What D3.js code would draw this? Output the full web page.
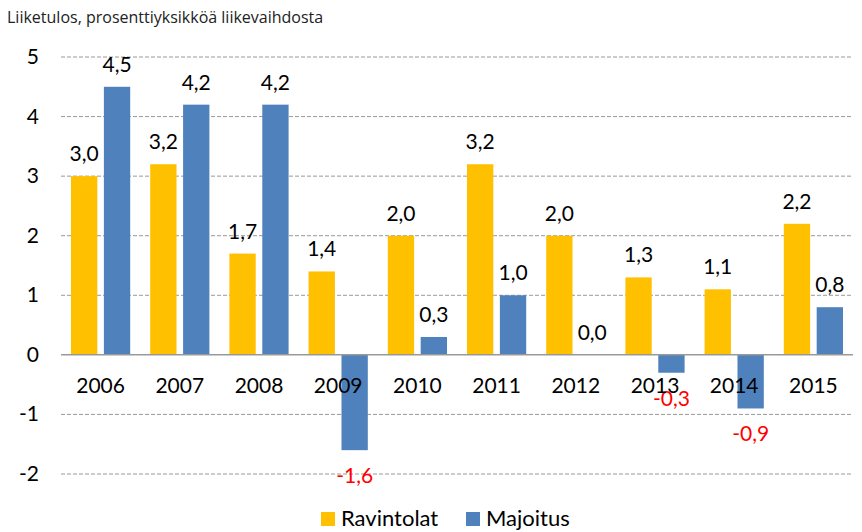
<!DOCTYPE html>
<html lang="fi">
<head>
<meta charset="UTF-8">
<script src="https://d3js.org/d3.v7.min.js"></script>
<style>
    body { margin: 0; background: #fff; }
    text { font-family: Lato, 'Open Sans', sans-serif; }
</style>
</head>
<body>
<svg id="chart" width="862" height="532"></svg>
<script>
// data
let years = ['2006', '2007', '2008', '2009', '2010', '2011', '2012', '2013', '2014', '2015']
let ravintolat = [3.0, 3.2, 1.7, 1.4, 2.0, 3.2, 2.0, 1.3, 1.1, 2.2]
let majoitus = [4.5, 4.2, 4.2, -1.6, 0.3, 1.0, 0.0, -0.3, -0.9, 0.8]
let seriesNames = ['Ravintolat', 'Majoitus']
let yTicks = [-2, -1, 0, 1, 2, 3, 4, 5]

let colors = ['#ffc000', '#4f81bd']
let svg = d3.select('#chart')

let x = d3.scaleBand().domain(years).range([61, 853]).paddingInner(0).paddingOuter(0)
let inner = d3.scaleBand().domain([0, 1]).range([10, x.bandwidth() - 10]).paddingInner(0.2)
let y = d3.scaleLinear().domain([-2, 5]).range([474, 57])

let fmt = v => v.toFixed(1).replace('.', ',')

// title
svg.append('text').attr('x', 7).attr('y', 23).attr('font-size', 16).attr('fill', '#222')
    .style('font-family', "'Open Sans', sans-serif")
    .text('Liiketulos, prosenttiyksikköä liikevaihdosta')

// gridlines
svg.selectAll('.grid').data(yTicks.filter(d => d !== 0)).enter().append('line')
    .attr('x1', 61).attr('x2', 853)
    .attr('y1', d => y(d)).attr('y2', d => y(d))
    .attr('stroke', '#999').attr('stroke-width', 1).attr('stroke-dasharray', '4,2')

// y axis labels
svg.selectAll('.ylab').data(yTicks).enter().append('text')
    .attr('x', 39).attr('y', d => y(d) + 7)
    .attr('text-anchor', 'end').attr('font-size', 21).attr('fill', '#000')
    .text(d => d)

let all = [ravintolat, majoitus]
all.forEach((vals, s) => {
    svg.selectAll('.bar' + s).data(vals).enter().append('rect')
        .attr('x', (d, i) => x(years[i]) + inner(s))
        .attr('width', inner.bandwidth())
        .attr('y', d => y(Math.max(0, d)))
        .attr('height', d => Math.abs(y(d) - y(0)))
        .attr('fill', colors[s])

    svg.selectAll('.lab' + s).data(vals).enter().append('text')
        .attr('x', (d, i) => x(years[i]) + inner(s) + inner.bandwidth() / 2)
        .attr('y', d => d >= 0 ? y(d) - 15 : y(d) + 33)
        .attr('text-anchor', 'middle').attr('font-size', 21)
        .attr('fill', d => d < 0 ? '#ff0000' : '#000')
        .text(d => fmt(d))
})

// zero line
svg.append('line').attr('x1', 61).attr('x2', 853).attr('y1', y(0)).attr('y2', y(0))
    .attr('stroke', '#999').attr('stroke-width', 1.5)

// category labels
svg.selectAll('.xlab').data(years).enter().append('text')
    .attr('x', d => x(d) + x.bandwidth() / 2).attr('y', 393)
    .attr('text-anchor', 'middle').attr('font-size', 21).attr('fill', '#000')
    .text(d => d)

// legend
let legendX = [321, 466]
seriesNames.forEach((name, s) => {
    svg.append('rect').attr('x', legendX[s]).attr('y', 512).attr('width', 14).attr('height', 14).attr('fill', colors[s])
    svg.append('text').attr('x', legendX[s] + 20).attr('y', 526).attr('font-size', 22).attr('fill', '#000').text(name)
})
</script>
</body>
</html>
